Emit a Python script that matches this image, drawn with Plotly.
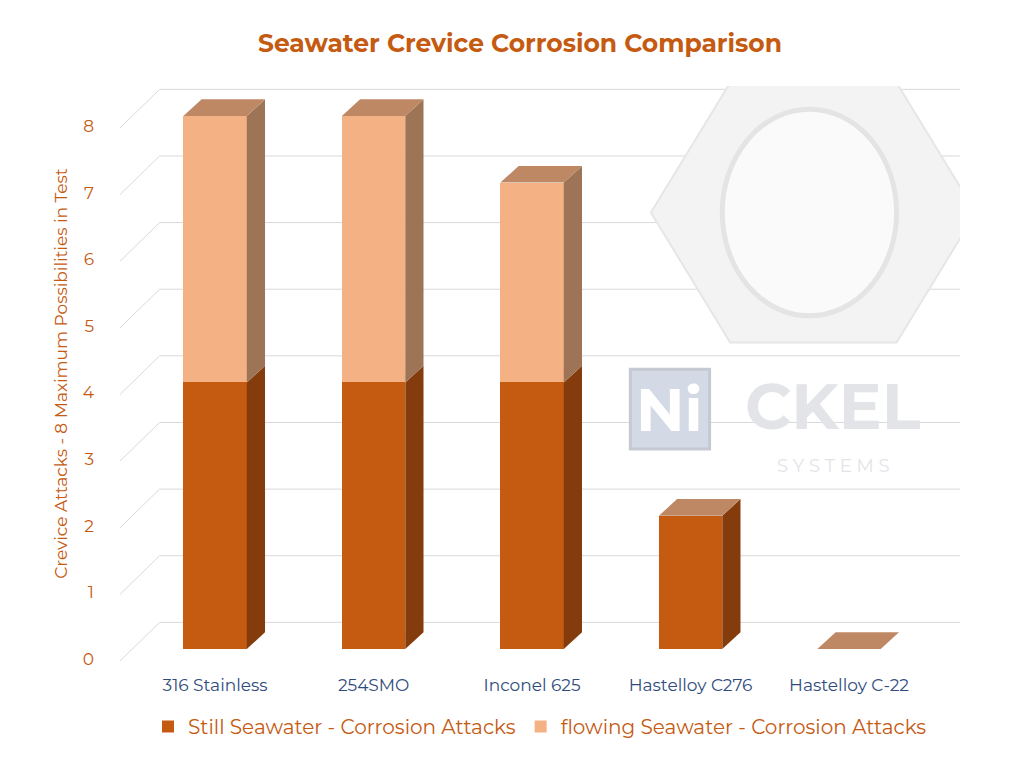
import plotly.graph_objects as go

categories = ["316 Stainless", "254SMO", "Inconel 625", "Hastelloy C276", "Hastelloy C-22"]
still = [4, 4, 4, 2, 0]
flowing = [4, 4, 3, 0, 0]
y_ticks = [0, 1, 2, 3, 4, 5, 6, 7, 8]

dark = "#c55a11"
light = "#f4b183"
dark_side = "#843c0c"
light_side = "#9e7456"
top_col = "#bf8864"

xs = list(range(len(categories)))
w = 0.4
dx, dy = 0.115, 0.25

fig = go.Figure()
fig.add_bar(x=xs, y=still, width=w, marker_color=dark, marker_line_width=0,
            name="Still Seawater - Corrosion Attacks")
fig.add_bar(x=xs, y=flowing, width=w, marker_color=light, marker_line_width=0,
            name="flowing Seawater - Corrosion Attacks")

shapes = []
# perspective gridlines
for v in y_ticks:
    shapes.append(dict(type="path", xref="x", yref="y", layer="below",
                       path=f"M -0.6 {v-0.18} L -0.35 {v+0.4} L 4.7 {v+0.4}",
                       line=dict(color="#d9d9d9", width=1)))

def face(pts, col):
    p = "M " + " L ".join(f"{a} {b}" for a, b in pts) + " Z"
    return dict(type="path", xref="x", yref="y", path=p, fillcolor=col,
                line=dict(width=0), layer="above")

for x, s, f in zip(xs, still, flowing):
    r = x + w / 2
    l = x - w / 2
    for y0, y1, col in [(0, s, dark_side), (s, s + f, light_side)]:
        if y1 > y0:
            shapes.append(face([(r, y0), (r + dx, y0 + dy), (r + dx, y1 + dy), (r, y1)], col))
    t = s + f
    shapes.append(face([(l, t), (l + dx, t + dy), (r + dx, t + dy), (r, t)], top_col))

# faint logo watermark
shapes.append(dict(type="path", xref="x", yref="y", layer="below",
                   path="M 2.75 6.55 L 3.25 4.6 L 4.3 4.6 L 4.8 6.55 L 4.3 8.5 L 3.25 8.5 Z",
                   fillcolor="#f3f3f3", line=dict(color="#e6e6e6", width=2)))
shapes.append(dict(type="circle", xref="x", yref="y", layer="below",
                   x0=3.2, x1=4.3, y0=5.0, y1=8.1, fillcolor="#fafafa",
                   line=dict(color="#e4e4e4", width=5)))
shapes.append(dict(type="rect", xref="x", yref="y", layer="below",
                   x0=2.62, x1=3.12, y0=3.0, y1=4.2, fillcolor="#d3dae6",
                   line=dict(color="#c4c9d2", width=3)))

fig.update_layout(
    shapes=shapes,
    barmode="stack",
    width=1024, height=768,
    margin=dict(l=112, r=72, t=78, b=115),
    plot_bgcolor="white", paper_bgcolor="white",
    font=dict(family="Montserrat, Open Sans, sans-serif"),
    title=dict(text="<b>Seawater Crevice Corrosion Comparison</b>", x=0.5, y=0.965,
               xanchor="center", font=dict(size=25, color=dark)),
    xaxis=dict(range=[-0.6, 4.7], tickvals=xs, ticktext=categories, showgrid=False,
               zeroline=False, showline=False, ticklabelstandoff=12,
               tickfont=dict(size=17, color="#2f4b7c")),
    yaxis=dict(range=[-0.18, 8.45], tickvals=y_ticks, ticktext=[str(v) for v in y_ticks],
               showgrid=False, zeroline=False, showline=False, ticklabelshift=10,
               tickfont=dict(size=17, color=dark), ticklabelstandoff=25,
               title=dict(text="Crevice Attacks - 8 Maximum Possibilities in Test",
                          font=dict(size=17, color=dark), standoff=10)),
    legend=dict(orientation="h", x=0.5, xanchor="center", y=-0.08, yanchor="top",
                font=dict(size=20, color=dark), traceorder="normal"),
    annotations=[
        dict(text="<b>Ni</b>", x=2.87, y=3.6, xref="x", yref="y", showarrow=False,
             font=dict(size=60, color="white")),
        dict(text="<b>CKEL</b>", x=3.9, y=3.65, xref="x", yref="y", showarrow=False,
             font=dict(size=64, color="#e2e4e8")),
        dict(text="S Y S T E M S", x=3.9, y=2.75, xref="x", yref="y", showarrow=False,
             font=dict(size=18, color="#e2e4e8")),
    ],
)

fig.write_html("out.html")
